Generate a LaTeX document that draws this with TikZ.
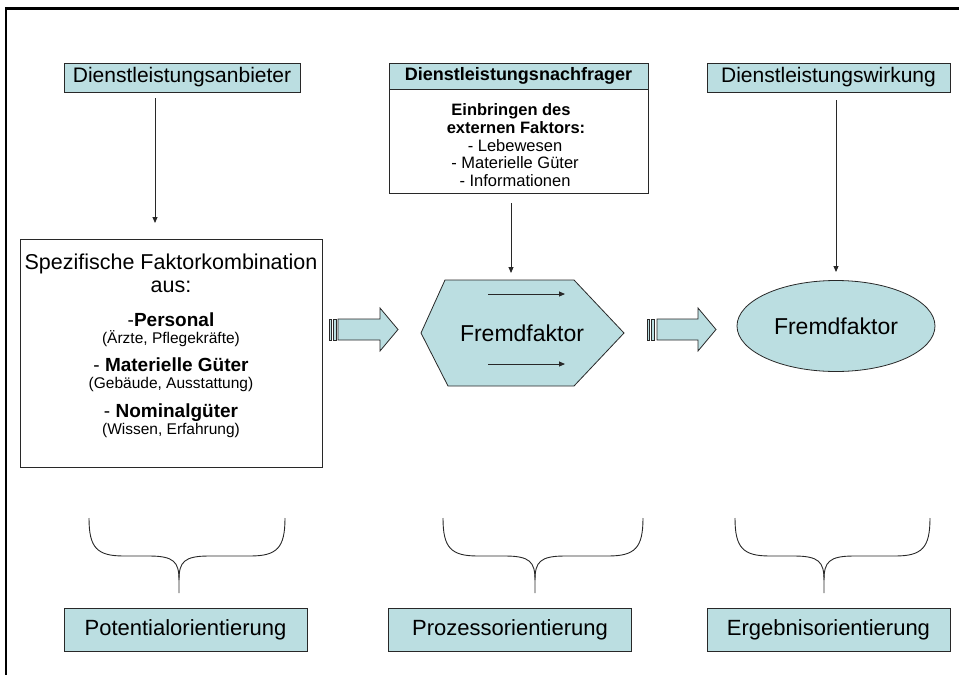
\documentclass[tikz,border=0pt]{standalone}
\usepackage{fontspec}
\setmainfont{Liberation Sans}
\usetikzlibrary{arrows.meta,shapes.geometric}
\definecolor{boxfill}{RGB}{187,222,225}
\definecolor{linecol}{RGB}{40,40,40}
\begin{document}
\begin{tikzpicture}[x=1pt,y=-1pt,
  hdr/.style={draw=linecol, fill=boxfill, line width=0.9pt, inner sep=0pt,
    font=\fontsize{21}{25}\selectfont},
  foot/.style={hdr, minimum width=243, minimum height=43,
    font=\fontsize{22}{26}\selectfont},
  plainbox/.style={draw=linecol, fill=white, line width=0.9pt, inner sep=0pt},
  txt/.style={anchor=base, inner sep=0pt},
  big/.style={txt, font=\fontsize{21.5}{25}\selectfont},
  sub/.style={txt, font=\fontsize{19}{22}\selectfont},
  note/.style={txt, font=\fontsize{15.5}{18}\selectfont},
  lst/.style={txt, font=\fontsize{16.5}{19}\selectfont},
  lstb/.style={lst, font=\bfseries\fontsize{16.5}{19}\selectfont},
  arr/.style={draw=linecol, line width=0.9pt, -{Triangle[length=6pt,width=5pt]}},
  blockarrow/.style={draw=linecol, fill=boxfill, line width=0.8pt},
  brace/.style={draw=linecol, line width=0.9pt}]
\useasboundingbox (0,0) rectangle (959,675);

% outer frame (top and left edges)
\draw[line width=2.5pt, black] (6,675) -- (6,8.5) -- (959,8.5);

% column heads
\node[hdr, minimum width=236, minimum height=29] (anb) at (182,77.5) {Dienstleistungsanbieter};
\node[hdr, minimum width=259, minimum height=26,
  font=\bfseries\fontsize{18}{22}\selectfont] (nach) at (518.5,76) {Dienstleistungsnachfrager};
\node[plainbox, minimum width=259, minimum height=104, anchor=north] (nachbody) at (nach.south) {};
\node[hdr, minimum width=243, minimum height=29] (wirk) at (828.5,77.5) {Dienstleistungswirkung};

% external factor list
\node[lstb] (e1) at (511,115.5) {Einbringen des};
\node[lstb] (e2) at (516,133.3) {externen Faktors:};
\node[lst] (e3) at (515,151.1) {- Lebewesen};
\node[lst] (e4) at (515,168.9) {- Materielle Güter};
\node[lst] (e5) at (515,186.7) {- Informationen};

% factor combination box
\node[plainbox, minimum width=302, minimum height=228, anchor=north west] (combo) at (20,239) {};
\node[big] (c1) at (171,269) {Spezifische Faktorkombination};
\node[big] (c2) at (171,292) {aus:};
\node[sub] (c3) at (171,326.5) {-\textbf{Personal}};
\node[note] (c4) at (171,343.5) {(Ärzte, Pflegekräfte)};
\node[sub] (c5) at (171,371) {- \textbf{Materielle Güter}};
\node[note] (c6) at (171,388) {(Gebäude, Ausstattung)};
\node[sub] (c7) at (171,417.5) {- \textbf{Nominalgüter}};
\node[note] (c8) at (171,434.5) {(Wissen, Erfahrung)};

% process hexagon
\draw[draw=linecol, fill=boxfill, line width=0.8pt]
  (421,333) -- (445,280) -- (574,280) -- (624,333) -- (574,386) -- (448,386) -- cycle;
\node[inner sep=0pt, font=\fontsize{23}{27}\selectfont] (hex) at (522,333) {Fremdfaktor};
\coordinate (ha1) at (488,294); \coordinate (hb1) at (565,294);
\coordinate (ha2) at (488,364); \coordinate (hb2) at (565,364);
\draw[arr] (ha1) -- (hb1);
\draw[arr] (ha2) -- (hb2);

% result ellipse
\node[ellipse, draw=linecol, fill=boxfill, line width=0.8pt, inner sep=0pt,
  minimum width=198, minimum height=91, font=\fontsize{23}{27}\selectfont] (ell) at (836,326) {Fremdfaktor};

% downward connectors
\coordinate (anbin) at (155,223);
\coordinate (hexin) at (511,273);
\coordinate (ellin) at (836,272);
\draw[arr, shorten <=6pt] (anb.south -| anbin) -- (anbin);
\draw[arr, shorten <=9pt] (nachbody.south -| hexin) -- (hexin);
\draw[arr, shorten <=8pt] (wirk.south -| ellin) -- (ellin);

% striped block arrows
\draw[blockarrow] (329,319) rectangle (331.5,340);
\draw[blockarrow] (333,319) rectangle (336,340);
\draw[blockarrow] (338,319) -- (380,319) -- (380,308) -- (398,329.5) -- (380,351) -- (380,340) -- (338,340) -- cycle;
\draw[blockarrow] (647,319) rectangle (649.5,340);
\draw[blockarrow] (651,319) rectangle (654.5,340);
\draw[blockarrow] (657,319) -- (698,319) -- (698,308) -- (716,329.5) -- (698,351) -- (698,340) -- (657,340) -- cycle;

% braces
\foreach \xl/\xc/\xr in {89/179/285, 443/535/643, 735/824/930}{
  \draw[brace] (\xl,518) .. controls (\xl,548) and (\xl+8,556) .. (\xl+35,556)
    -- (\xc-30,556) .. controls (\xc-5,556) and (\xc,562) .. (\xc,580) -- (\xc,593);
  \draw[brace] (\xr,518) .. controls (\xr,548) and (\xr-8,556) .. (\xr-35,556)
    -- (\xc+30,556) .. controls (\xc+5,556) and (\xc,562) .. (\xc,580);
}

% orientation boxes
\node[foot] (pot) at (185.5,630) {Potentialorientierung};
\node[foot] (proz) at (510,630) {Prozessorientierung};
\node[foot] (erg) at (828.5,630) {Ergebnisorientierung};
\end{tikzpicture}
\end{document}
